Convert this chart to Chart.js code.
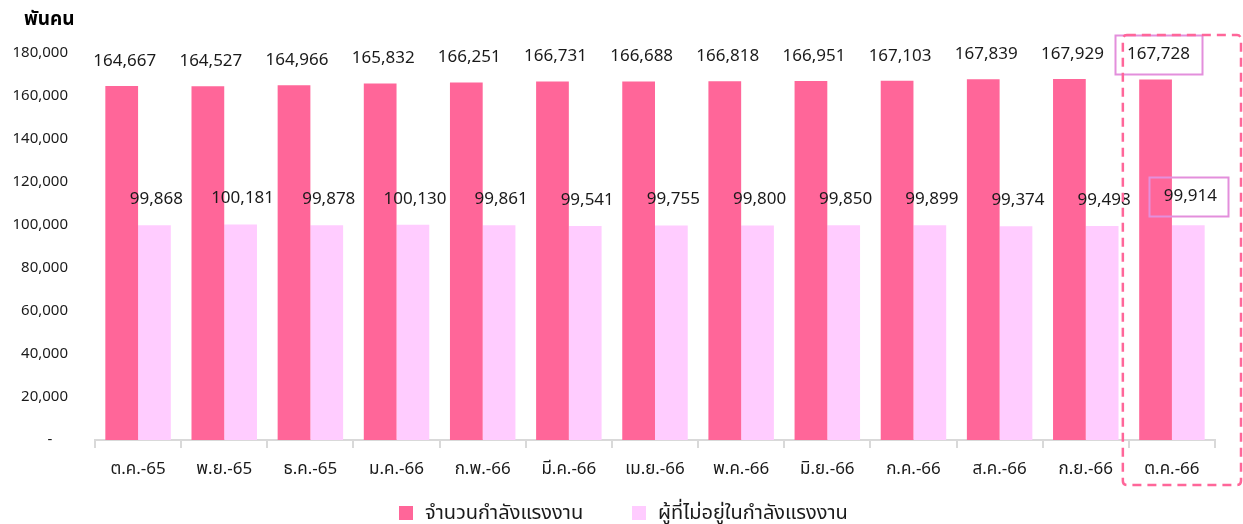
<!DOCTYPE html>
<html>
<head>
<meta charset="utf-8">
<script src="https://cdn.jsdelivr.net/npm/chart.js@4.4.1/dist/chart.umd.min.js"></script>
<style>
  html, body { margin: 0; padding: 0; background: #ffffff; }
  #wrap { width: 1243px; height: 524px; position: relative; }
</style>
</head>
<body>
<div id="wrap"><canvas id="c" width="1243" height="524"></canvas></div>
<script>
// Monthly labour force figures (thousand persons)
const months = ['ต.ค.-65','พ.ย.-65','ธ.ค.-65','ม.ค.-66','ก.พ.-66','มี.ค.-66','เม.ย.-66','พ.ค.-66','มิ.ย.-66','ก.ค.-66','ส.ค.-66','ก.ย.-66','ต.ค.-66'];
const labourForce = [164667,164527,164966,165832,166251,166731,166688,166818,166951,167103,167839,167929,167728];
const notInLabourForce = [99868,100181,99878,100130,99861,99541,99755,99800,99850,99899,99374,99498,99914];
const seriesNames = ['จำนวนกำลังแรงงาน','ผู้ที่ไม่อยู่ในกำลังแรงงาน'];
const yTicks = [0,20000,40000,60000,80000,100000,120000,140000,160000,180000];
const unitLabel = 'พันคน';

const FONT = '"Noto Sans", "Noto Sans Thai", Tahoma, "DejaVu Sans", sans-serif';
const DARK = '#ff6699';
const LIGHT = '#ffccff';
const BOX = '#e38fdc';
const TEXT = '#1a1a1a';

const fmt = v => v.toLocaleString('en-US');

// Value labels above each bar, the highlighted month boxed, plus title, legend and dashed frame
const decor = {
  id: 'decor',
  afterDatasetsDraw(chart) {
    const ctx = chart.ctx;
    const last = months.length - 1;
    ctx.save();
    ctx.font = '17px ' + FONT;
    ctx.fillStyle = TEXT;
    ctx.textAlign = 'center';
    ctx.textBaseline = 'middle';
    chart.data.datasets.forEach((ds, di) => {
      const meta = chart.getDatasetMeta(di);
      meta.data.forEach((bar, i) => {
        const txt = fmt(ds.data[i]);
        const x = bar.x + (di === 0 ? 3 : 2);
        let y = bar.y - (di === 0 ? 25 : 26);
        if (i === last) {
          if (di === 1) y -= 3;
          const w = ctx.measureText(txt).width;
          const padX = di === 0 ? 12 : 13;
          const bx = di === 0 ? x - w / 2 - padX : x - w / 2 - padX - 2;
          ctx.strokeStyle = BOX;
          ctx.lineWidth = 2;
          ctx.strokeRect(Math.round(bx) + 0.5, Math.round(y - 19) + 0.5, Math.round(w + padX * 2), 39);
        }
        ctx.fillText(txt, x, y);
      });
    });

    // unit title
    ctx.font = 'bold 19px ' + FONT;
    ctx.textAlign = 'left';
    ctx.fillStyle = '#000';
    ctx.fillText(unitLabel, 24, 20);

    // dashed frame around the latest month
    const xs = chart.scales.x, ys = chart.scales.y;
    const step = xs.getPixelForValue(1) - xs.getPixelForValue(0);
    const left = xs.getPixelForValue(last) - step / 2 - 6;
    const right = xs.getPixelForValue(last) + step / 2 + 26;
    const top = ys.getPixelForValue(180000) - 18;
    const bottom = chart.chartArea.bottom + 45;
    ctx.strokeStyle = DARK;
    ctx.lineWidth = 2.5;
    ctx.setLineDash([9, 6]);
    ctx.beginPath();
    ctx.roundRect(left, top, right - left, bottom - top, 4);
    ctx.stroke();
    ctx.setLineDash([]);

    // legend
    ctx.font = '20px ' + FONT;
    ctx.textBaseline = 'middle';
    const ly = 513;
    ctx.fillStyle = DARK;
    ctx.fillRect(399, ly - 7, 14, 14);
    ctx.fillStyle = TEXT;
    ctx.fillText(seriesNames[0], 425, ly);
    ctx.fillStyle = LIGHT;
    ctx.fillRect(632, ly - 7, 14, 14);
    ctx.fillStyle = TEXT;
    ctx.fillText(seriesNames[1], 658, ly);
    ctx.restore();
  }
};

new Chart(document.getElementById('c'), {
  type: 'bar',
  data: {
    labels: months,
    datasets: [
      { label: seriesNames[0], data: labourForce, backgroundColor: DARK, borderWidth: 0 },
      { label: seriesNames[1], data: notInLabourForce, backgroundColor: LIGHT, borderWidth: 0 }
    ]
  },
  options: {
    responsive: false,
    animation: false,
    devicePixelRatio: 1,
    layout: { padding: { left: 0, right: 28, top: 53, bottom: 0 } },
    datasets: { bar: { categoryPercentage: 0.76, barPercentage: 1.0 } },
    plugins: { legend: { display: false }, tooltip: { enabled: false } },
    scales: {
      x: {
        grid: { display: true, drawOnChartArea: false, drawTicks: true, tickLength: 8, color: '#d9d9d9', lineWidth: 2, offset: true },
        border: { display: true, color: '#d9d9d9', width: 2 },
        ticks: { color: TEXT, font: { family: FONT, size: 17 }, padding: 11, maxRotation: 0, autoSkip: false },
        afterFit(scale) { scale.height = 84; }
      },
      y: {
        min: 0, max: 180000,
        afterBuildTicks(scale) { scale.ticks = yTicks.map(v => ({ value: v })); },
        grid: { display: false, drawTicks: false },
        border: { display: false },
        ticks: {
          color: TEXT, font: { family: FONT, size: 15 }, padding: 27,
          callback: v => v === 0 ? '-    ' : fmt(v)
        },
        afterFit(scale) { scale.width = 95; }
      }
    }
  },
  plugins: [decor]
});
</script>
</body>
</html>
